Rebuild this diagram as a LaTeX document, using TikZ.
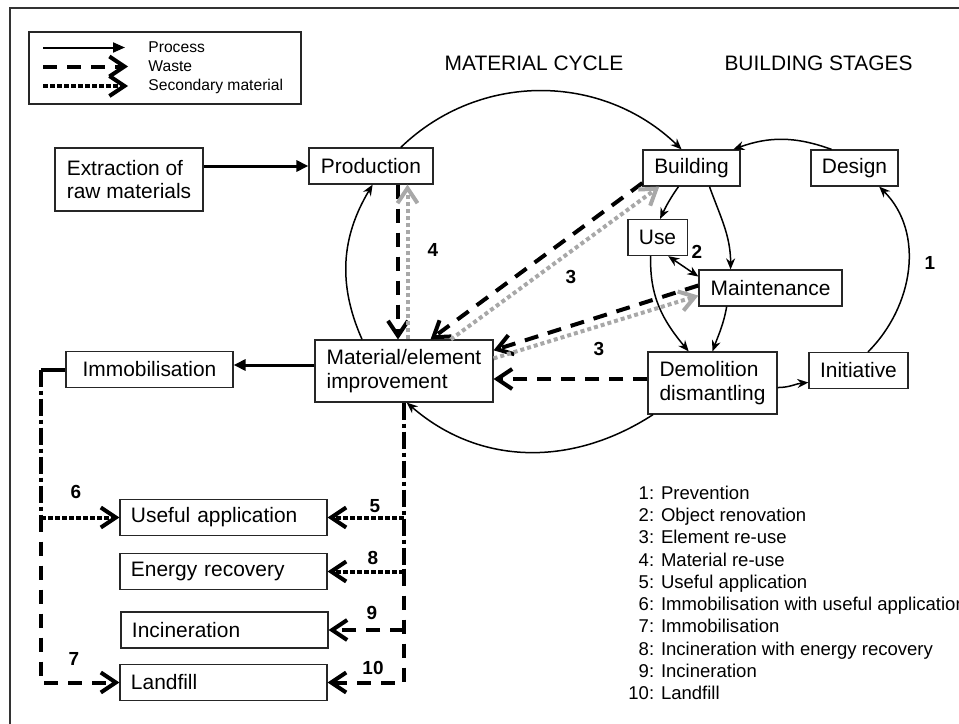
\documentclass[tikz,border=0pt]{standalone}
\usepackage{fontspec}
\setmainfont{Liberation Sans}
\usepackage{xcolor}
\usetikzlibrary{arrows.meta,calc}
\definecolor{secgray}{RGB}{168,168,168}

\begin{document}
\begin{tikzpicture}[x=0.5bp,y=0.5bp]
        \tikzstyle{every node}=[inner sep=0pt]
        \tikzstyle{box}=[draw=black!85,line width=0.6bp,fill=white,inner xsep=5.5bp,minimum height=18bp,align=left,font=\fontsize{10.5}{12}\selectfont]
        \tikzstyle{sink}=[box,text width=92.5bp]
        \tikzstyle{title}=[font=\fontsize{10.5}{12}\selectfont]
        \tikzstyle{lgtext}=[anchor=west,font=\fontsize{7.85}{9.4}\selectfont]
        \tikzstyle{num}=[font=\fontsize{9.5}{11}\selectfont\bfseries]
        \tikzstyle{proc}=[line width=0.75bp,-{Stealth[length=5.5bp,width=4.5bp]}]
        \tikzstyle{flow}=[line width=1.5bp,-{Triangle[length=6bp,width=5.5bp]}]
        \tikzstyle{wst}=[line width=2bp,dash pattern=on 7bp off 5bp,-{Straight Barb[length=7.5bp,width=10bp]}]
        \tikzstyle{sec}=[line width=2bp,dash pattern=on 2.5bp off 1bp,-{Straight Barb[length=7.5bp,width=10bp]}]
        \tikzstyle{rec}=[sec,draw=secgray,dash pattern=on 2bp off 1.5bp]
        \tikzstyle{imb}=[line width=2bp,dash pattern=on 8.5bp off 2bp on 2bp off 2bp]

        \useasboundingbox (0,0) rectangle (959,-724);
        \draw[line width=1bp,black!80] (10,-724) -- (10,-8) -- (959,-8);

        % legend
        \node[draw=black!85,line width=0.6bp,minimum width=136bp,minimum height=36bp] (lg) at (165,-68) {};
        \node[lgtext] (lgp) at (148,-47.5) {Process};
        \node[lgtext] (lgw) at (148,-66.5) {Waste};
        \node[lgtext] (lgs) at (148,-86) {Secondary material};
        \coordinate (lp) at (43,-47.5);
        \coordinate (lw) at (43,-66.5);
        \coordinate (ls) at (43,-86);
        \draw[line width=1bp,-{Triangle[length=6bp,width=5bp]}] (lp) -- ($(lgp.west)+(-23,0)$);
        \draw[wst] (lw) -- ($(lgw.west)+(-20,0)$);
        \draw[sec] (ls) -- ($(lgs.west)+(-20,0)$);

        \node[title] (mc) at (534,-63) {MATERIAL CYCLE};
        \node[title] (bs) at (818.5,-63) {BUILDING STAGES};

        \node[box,minimum width=74bp,minimum height=31.5bp] (extr) at (129,-179.5) {Extraction of\\raw materials};
        \node[box,minimum width=62bp] (prod) at (371,-166) {Production};
        \node[box,minimum width=48.5bp] (bld) at (691.5,-168) {Building};
        \node[box,minimum width=43.5bp] (des) at (854.5,-168) {Design};
        \node[box,minimum width=29.5bp] (use) at (657.5,-237.5) {Use};
        \node[box,minimum width=71.5bp] (mnt) at (770.5,-288) {Maintenance};
        \node[box,minimum width=89bp,minimum height=31bp] (mat) at (404,-371) {Material/element\\improvement};
        \node[box,minimum width=64.5bp,minimum height=31bp] (dem) at (712.5,-383) {Demolition\\dismantling};
        \node[box,minimum width=49.5bp] (ini) at (858.5,-370.5) {Initiative};
        \node[box,minimum width=83.5bp] (imm) at (149.5,-369.5) {Immobilisation};
        \node[sink] (ufa) at (223.5,-517.5) {Useful application};
        \node[sink] (enr) at (223.5,-571.5) {Energy recovery};
        \node[sink] (inc) at (224.5,-630) {Incineration};
        \node[sink] (lnd) at (223.5,-682.5) {Landfill};

        % material cycle
        \draw[proc] (prod.32) to[out=44,in=136] (bld.118);
        \draw[proc] (dem.208) to[out=213,in=319] (mat.-85);
        \draw[proc] (mat.143) to[out=114,in=239] (prod.-85);

        % building stages
        \draw[proc] (des.141) to[out=160,in=20] (bld.24);
        \draw[proc] (ini.63) to[out=45,in=-45] (des.-37);
        \draw[proc] (dem.-4) to[out=0,in=185] ([yshift=-6bp]ini.west);
        \draw[proc] (bld.235) to[out=235,in=65] (use.82);
        \draw[proc] (bld.-46) to[out=-70,in=90] (mnt.155);
        \draw[line width=0.75bp,{Stealth[length=5.5bp,width=4.5bp]}-{Stealth[length=5.5bp,width=4.5bp]}] (use.-60) -- (mnt.171);
        \draw[proc] (use.250) to[out=-92,in=130] (dem.127);
        \draw[proc] (mnt.203) to[out=-100,in=70] (dem.north);

        \draw[wst] ([xshift=13.5bp]prod.south) -- ([xshift=13.5bp]prod.south |- mat.north);
        \draw[rec] ([xshift=18.25bp]prod.south |- mat.north) -- ([xshift=18.25bp]prod.south);
        \draw[wst] (bld.197) -- (mat.50);
        \draw[rec] (mat.34) -- (bld.210);
        \draw[wst] (mnt.178) -- (mat.13);
        \draw[rec] (mat.8) -- (mnt.186);
        \draw[wst] ([yshift=2bp]dem.west) -- ([yshift=2bp]dem.west -| mat.east);

        \draw[flow] (extr.east |- prod.west) -- (prod.west);
        \draw[flow] ([yshift=3bp]mat.west) -- ([yshift=3bp]mat.west -| imm.east);

        % end of the cycle
        \coordinate (il) at ($(imm.west)+(-24,0)$);
        \draw[line width=2bp] (imm.west) -- (il);
        \draw[imb] (il) -- (il |- ufa.west);
        \draw[sec] (il |- ufa.west) -- (ufa.west);
        \draw[wst] (il |- ufa.west) -- (il |- lnd.west) -- (lnd.west);
        \draw[imb] (mat.south) -- (mat.south |- enr.east);
        \draw[sec] (mat.south |- ufa.east) -- (ufa.east);
        \draw[sec] (mat.south |- enr.east) -- (enr.east);
        \draw[wst] (mat.south |- inc.east) -- (inc.east);
        \draw[wst] (mat.south |- enr.east) -- (mat.south |- lnd.east) -- (lnd.east);

        \node[num] (l4) at (433,-250) {4};
        \node[num] (l3a) at (571,-277) {3};
        \node[num] (l3b) at (599,-349) {3};
        \node[num] (l2) at (697,-252) {2};
        \node[num] (l1) at (930,-263) {1};
        \node[num] (l6) at (76,-492) {6};
        \node[num] (l5) at (375,-506) {5};
        \node[num] (l8) at (373,-558) {8};
        \node[num] (l9) at (372,-613) {9};
        \node[num] (l7) at (74,-659) {7};
        \node[num] (l10) at (373,-668) {10};

        \node[anchor=base west,font=\fontsize{9.3}{11.15}\selectfont] (key) at (628,-499.5) {\begin{tabular}[t]{@{}r@{: }l@{}}
        1&Prevention\\
        2&Object renovation\\
        3&Element re-use\\
        4&Material re-use\\
        5&Useful application\\
        6&Immobilisation with useful application\\
        7&Immobilisation\\
        8&Incineration with energy recovery\\
        9&Incineration\\
        10&Landfill
        \end{tabular}};
    \end{tikzpicture}
\end{document}
